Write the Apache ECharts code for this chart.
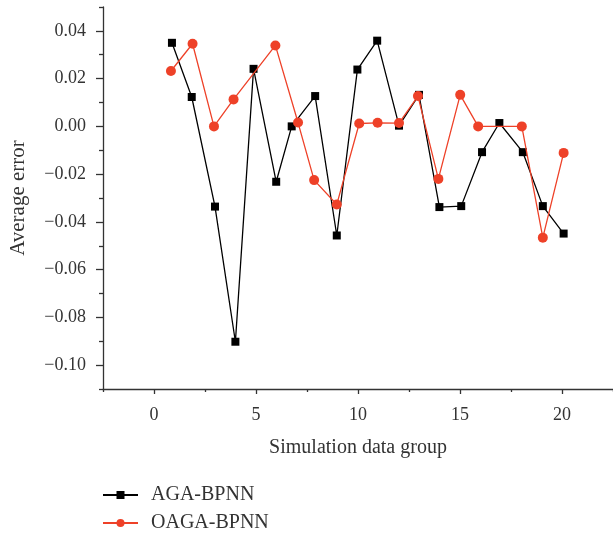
<!DOCTYPE html>
<html>
<head>
<meta charset="utf-8">
<script src="https://cdn.jsdelivr.net/npm/echarts@6/dist/echarts.min.js"></script>
<style>html,body{margin:0;padding:0;background:#fff;}#c{width:613px;height:533px;}</style>
</head>
<body>
<div id="c"></div>
<script>
const agaX = [0.88,1.85,2.99,3.99,4.88,5.99,6.75,7.90,8.96,9.97,10.94,12.01,12.99,13.99,15.06,16.08,16.93,18.08,19.06,20.08];
const agaY = [0.0350,0.0123,-0.0336,-0.0902,0.0241,-0.0232,0.0000,0.0127,-0.0457,0.0238,0.0359,0.0003,0.0132,-0.0338,-0.0334,-0.0108,0.0014,-0.0108,-0.0334,-0.0449];
const oagaX = [0.83,1.89,2.94,3.90,5.95,7.06,7.85,8.96,10.06,10.96,12.01,12.94,13.94,15.01,15.89,18.03,19.06,20.08];
const oagaY = [0.0232,0.0346,0.0000,0.0113,0.0339,0.0016,-0.0225,-0.0327,0.0012,0.0015,0.0014,0.0127,-0.0220,0.0132,0.0000,0.0000,-0.0466,-0.0111];
const xMajor = [0,5,10,15,20];
const xMinor = [-2.5,2.5,7.5,12.5,17.5,22.5];
const yMajor = [-0.10,-0.08,-0.06,-0.04,-0.02,0.00,0.02,0.04];
const yMinor = [-0.11,-0.09,-0.07,-0.05,-0.03,-0.01,0.01,0.03,0.05];

const FONT = '"Liberation Serif", "DejaVu Serif", serif';
const TXT = '#333';
const AX = '#333';
const chart = echarts.init(document.getElementById('c'), null, {renderer: 'canvas'});
const pair = (xs, ys) => xs.map((x, i) => [x, ys[i]]);
const fmtY = v => (v < 0 ? '\u2212' : '') + Math.abs(v).toFixed(2);
const legendText = {fontFamily: FONT, fontSize: 20, color: TXT, padding: [0, 0, 0, 8]};

chart.setOption({
  animation: false,
  backgroundColor: '#fff',
  grid: {left: 102, right: 0, top: 7, bottom: 144, containLabel: false},
  xAxis: [{
    type: 'value', min: -2.5, max: 22.5, position: 'bottom',
    name: 'Simulation data group', nameLocation: 'middle', nameGap: 49,
    nameTextStyle: {fontFamily: FONT, fontSize: 20, color: TXT},
    axisLine: {show: true, onZero: false, lineStyle: {color: AX, width: 1.3}},
    axisTick: {show: true, customValues: xMajor, length: 5, lineStyle: {color: AX, width: 1.3}},
    axisLabel: {customValues: xMajor, fontFamily: FONT, fontSize: 18, color: TXT, margin: 17},
    splitLine: {show: false}
  }, {
    type: 'value', min: -2.5, max: 22.5, position: 'bottom',
    axisLine: {show: false, onZero: false},
    axisTick: {show: true, customValues: xMinor, length: 3, lineStyle: {color: AX, width: 1.3}},
    axisLabel: {show: false},
    splitLine: {show: false}
  }],
  yAxis: [{
    type: 'value', min: -0.11, max: 0.05, position: 'left',
    name: 'Average error', nameLocation: 'middle', nameGap: 74, nameRotate: 90,
    nameTextStyle: {fontFamily: FONT, fontSize: 21, color: TXT},
    axisLine: {show: true, onZero: false, lineStyle: {color: AX, width: 1.3}},
    axisTick: {show: true, customValues: yMajor, length: 7, lineStyle: {color: AX, width: 1.3}},
    axisLabel: {customValues: yMajor, formatter: fmtY, fontFamily: FONT, fontSize: 18, color: TXT, margin: 17},
    splitLine: {show: false}
  }, {
    type: 'value', min: -0.11, max: 0.05, position: 'left',
    axisLine: {show: false, onZero: false},
    axisTick: {show: true, customValues: yMinor, length: 4, lineStyle: {color: AX, width: 1.3}},
    axisLabel: {show: false},
    splitLine: {show: false}
  }],
  legend: [{
    orient: 'vertical', left: 97, top: 480, itemWidth: 35, itemHeight: 10,
    textStyle: legendText, data: ['AGA-BPNN']
  }, {
    orient: 'vertical', left: 97, top: 508, itemWidth: 35, itemHeight: 10,
    textStyle: legendText, data: ['OAGA-BPNN']
  }],
  series: [{
    name: 'AGA-BPNN', type: 'line', data: pair(agaX, agaY),
    symbol: 'rect', symbolSize: 8, itemStyle: {color: '#000'},
    lineStyle: {color: '#000', width: 1.3}, z: 2
  }, {
    name: 'OAGA-BPNN', type: 'line', data: pair(oagaX, oagaY),
    symbol: 'circle', symbolSize: 10, itemStyle: {color: '#EE4128'},
    lineStyle: {color: '#EE4128', width: 1.3}, z: 3
  }]
});
</script>
</body>
</html>
